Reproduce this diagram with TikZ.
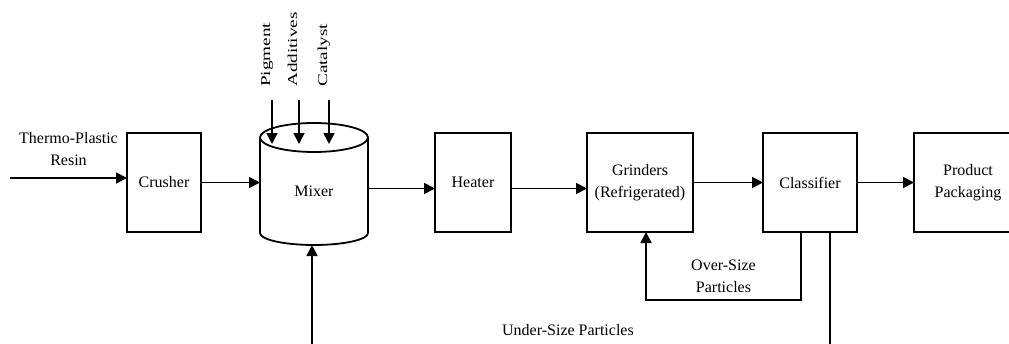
\documentclass[tikz,border=0pt]{standalone}
\usepackage{fontspec}
\setmainfont{Liberation Serif}
\usepackage{graphicx}
\usetikzlibrary{arrows.meta,positioning}

\begin{document}
\begin{tikzpicture}[
        x=1pt, y=1pt,
        node distance=60pt,
        font=\fontsize{16}{22}\selectfont,
        unit/.style={draw, line width=1.8pt, minimum height=99pt, align=center, inner sep=4pt, outer sep=0pt},
        tank/.style={minimum width=108pt, minimum height=125pt, inner sep=0pt, outer sep=0pt},
        feed/.style={rotate=90, inner sep=0pt, anchor=base west},
        flow/.style={-{Triangle[length=11pt, width=11pt]}, line width=1.8pt},
        pipe/.style={line width=1.8pt}
    ]
    \useasboundingbox (0,0) rectangle (1009,-343);
    \clip (0,0) rectangle (1009,-343);

    \node[unit, minimum width=74pt] (crusher) at (164,-182.5) {Crusher};
    \node[tank, right=59pt of crusher,
          label={[name=mixer-text, yshift=-9pt]center:Mixer}] (mixer) {};
    \node[unit, minimum width=76pt, right=67pt of mixer] (heater) {Heater};
    \node[unit, minimum width=106pt, right=76pt of heater] (grinders) {Grinders\\(Refrigerated)};
    \node[unit, minimum width=94pt, right=70pt of grinders] (classifier) {Classifier};
    \node[unit, minimum width=108pt, right=57pt of classifier] (packaging) {Product\\Packaging};

    % mixer drum: open top ellipse, front half of the bottom
    \draw[pipe] ([yshift=-17.5pt]mixer.north) ellipse [x radius=54pt, y radius=14.5pt];
    \draw[pipe] ([shift={(-54pt,-17.5pt)}]mixer.north) -- ++(0,-95.5)
        arc [start angle=180, end angle=360, x radius=54pt, y radius=12pt] -- ++(0,95.5);

    % additives fed in from the top
    \foreach \name/\dx in {Pigment/-42, Additives/-15, Catalyst/15} {
        \coordinate (\name-src) at ([xshift=\dx pt, yshift=20pt]mixer.north);
        \coordinate (\name-dst) at ([xshift=\dx pt, yshift=-24pt]mixer.north);
        \node[feed] (\name-lbl) at ([xshift=-2pt, yshift=13pt]\name-src) {\scalebox{1.2}[0.85]{\name}};
        \draw[flow] (\name-src) -- (\name-dst);
    }

    % raw resin in
    \coordinate (resin-src) at (10,-178);
    \draw[flow] (resin-src) -- node[above=8pt, align=center] (resin-lbl) {Thermo-Plastic\\Resin} (resin-src -| crusher.west);

    % main line
    \draw[flow] (crusher) -- (mixer);
    \draw[flow] ([yshift=-6pt]mixer.east) -- ([yshift=-6pt]heater.west);
    \draw[flow] ([yshift=-6pt]heater.east) -- ([yshift=-6pt]grinders.west);
    \draw[flow] (grinders) -- (classifier);
    \draw[flow] (classifier) -- (packaging);

    % oversize back to the grinders
    \draw[flow] ([xshift=-9pt]classifier.south) |- node[pos=0.75, above=3pt, align=center] (over-lbl) {Over-Size\\Particles}
        ([xshift=6pt, yshift=-68pt]grinders.south) -- ([xshift=6pt]grinders.south);

    % undersize returned to the mixer
    \coordinate (under-end) at ([xshift=20pt, yshift=-120pt]classifier.south);
    \coordinate (return-src) at ([xshift=-2pt, yshift=-105pt]mixer.south);
    \draw[pipe] ([xshift=20pt]classifier.south) -- (under-end);
    \draw[flow] (return-src) -- ([xshift=-2pt]mixer.south);
    \node (under-lbl) at (568,-330) {Under-Size Particles};
\end{tikzpicture}
\end{document}
